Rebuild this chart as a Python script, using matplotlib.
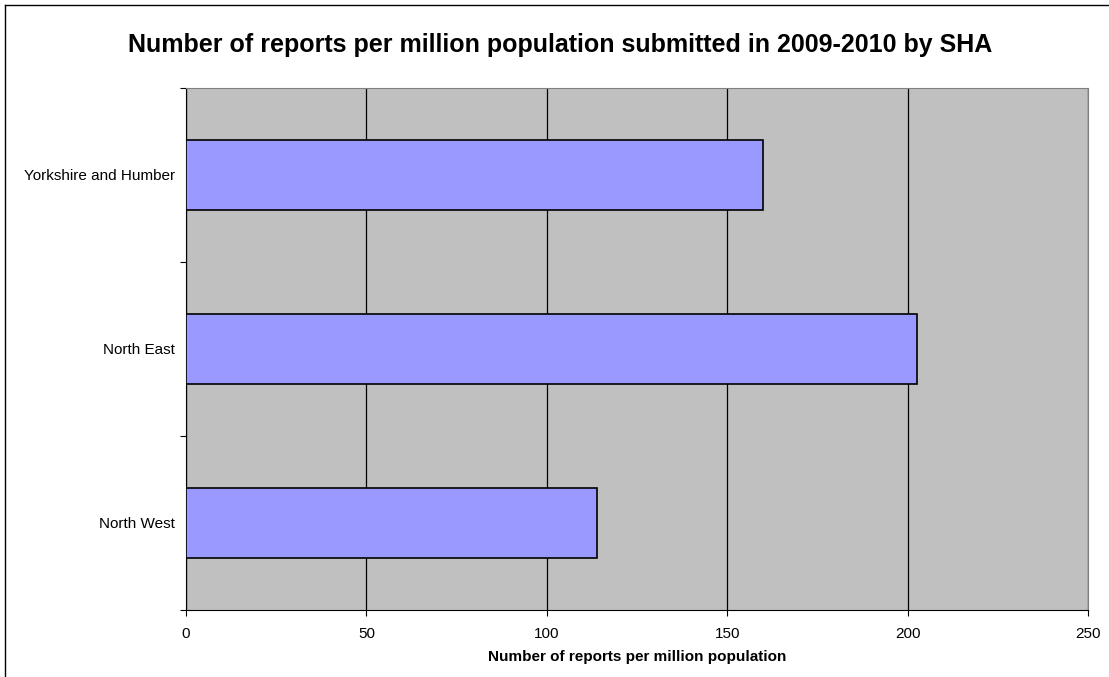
#!/usr/bin/env python3
"""Horizontal bar chart: reports per million population by SHA, 2009-2010."""
import matplotlib
matplotlib.use("Agg")
import matplotlib.pyplot as plt
from matplotlib.lines import Line2D

regions = ["North West", "North East", "Yorkshire and Humber"]
reports_per_million = [114, 202.7, 159.8]
x_ticks = [0, 50, 100, 150, 200, 250]

plt.rcParams["font.family"] = ["Liberation Sans", "DejaVu Sans"]

fig = plt.figure(figsize=(11.09, 6.77), dpi=100)
ax = fig.add_axes([186 / 1109, 1 - 610 / 677, 902 / 1109, 522 / 677])
ax.set_facecolor("#C0C0C0")

y = list(range(len(regions)))
ax.barh(y, reports_per_million, height=0.4, color="#9999FF",
        edgecolor="black", linewidth=1.2, zorder=3)

ax.set_xlim(0, 250)
ax.set_ylim(-0.5, len(regions) - 0.5)
ax.set_xticks(x_ticks)
ax.set_xticklabels([str(t) for t in x_ticks], fontsize=11)
ax.xaxis.grid(True, color="black", linewidth=0.9, zorder=1)
ax.set_axisbelow(True)

# category labels between boundary ticks, as in the original chart
ax.set_yticks([i - 0.5 for i in range(len(regions) + 1)])
ax.set_yticklabels([])
ax.set_yticks(y, minor=True)
ax.set_yticklabels(regions, minor=True, fontsize=11)
ax.tick_params(axis="y", which="minor", length=0, pad=8)
ax.tick_params(axis="y", which="major", length=4, direction="out")
ax.tick_params(axis="x", length=4, direction="out", pad=8)

ax.set_xlabel("Number of reports per million population", fontsize=11,
              fontweight="bold", labelpad=7)

for side in ("left", "bottom"):
    ax.spines[side].set_color("black")
for side in ("top", "right"):
    ax.spines[side].set_color("#808080")

fig.text(560 / 1109, 1 - 45 / 677,
         "Number of reports per million population submitted in 2009-2010 by SHA",
         ha="center", va="center", fontsize=18, fontweight="bold")

# outer chart frame
fig.add_artist(Line2D([5 / 1109, 5 / 1109], [0, 1 - 5 / 677],
                      transform=fig.transFigure, color="black", linewidth=1))
fig.add_artist(Line2D([5 / 1109, 1], [1 - 5 / 677, 1 - 5 / 677],
                      transform=fig.transFigure, color="black", linewidth=1))

fig.savefig("out.png", dpi=100)
